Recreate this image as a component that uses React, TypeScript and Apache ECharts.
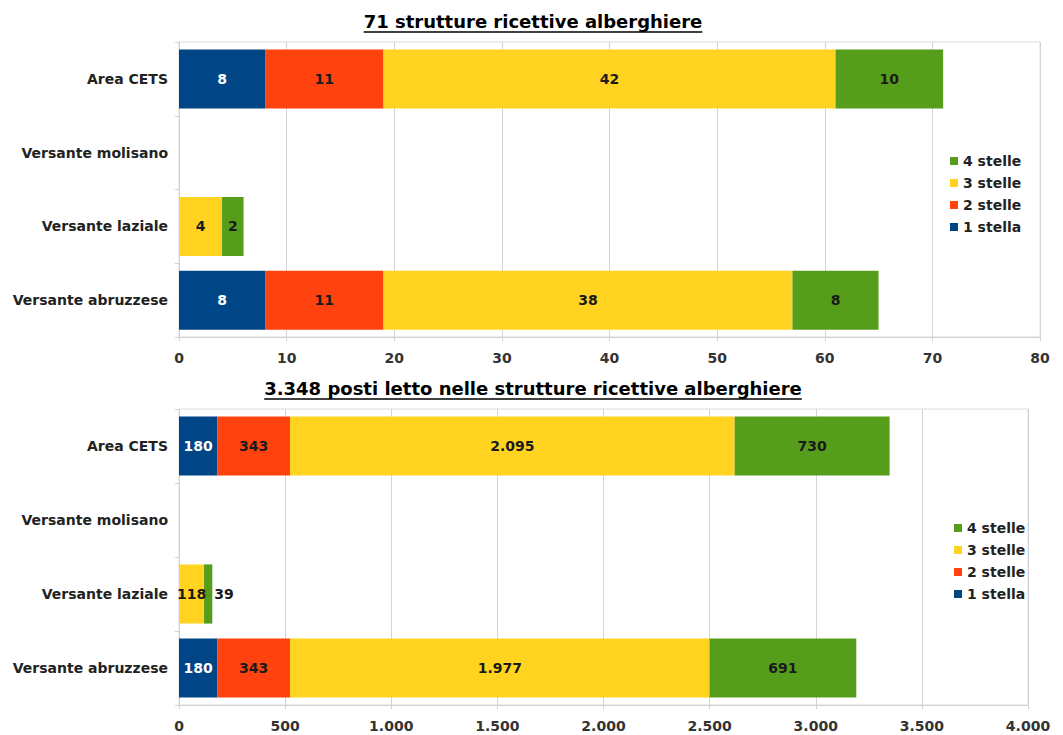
import React, { useEffect, useRef } from "react";
import * as echarts from "echarts";

// Categories, listed top to bottom
const areas = ["Area CETS", "Versante molisano", "Versante laziale", "Versante abruzzese"];
const classes = ["1 stella", "2 stelle", "3 stelle", "4 stelle"];
const legendOrder = ["4 stelle", "3 stelle", "2 stelle", "1 stella"];
const classColors = ["#004586", "#ff420e", "#ffd320", "#579d1c"];

// Number of hotels per class
const hotels1 = [8, 0, 0, 8];
const hotels2 = [11, 0, 0, 11];
const hotels3 = [42, 0, 4, 38];
const hotels4 = [10, 0, 2, 8];

// Number of beds per class
const beds1 = [180, 0, 0, 180];
const beds2 = [343, 0, 0, 343];
const beds3 = [2095, 0, 118, 1977];
const beds4 = [730, 0, 39, 691];

const title1 = "71 strutture ricettive alberghiere";
const title2 = "3.348 posti letto nelle strutture ricettive alberghiere";

const FONT = '"DejaVu Sans", Verdana, sans-serif';

// Italian thousands separator
const fmt = (v: number) => String(Math.round(v)).replace(/\B(?=(\d{3})+(?!\d))/g, ".");

function measure(text: string, font: string): number {
  const ctx = document.createElement("canvas").getContext("2d");
  if (!ctx) return text.length * 10;
  ctx.font = font;
  return ctx.measureText(text).width;
}

export default function App() {
  const ref = useRef<HTMLDivElement>(null);

  useEffect(() => {
    if (!ref.current) return;
    const chart = echarts.init(ref.current, null, { renderer: "svg" });

    const hotelSets = [hotels1, hotels2, hotels3, hotels4];
    const bedSets = [beds1, beds2, beds3, beds4];

    const makeSeries = (sets: number[][], axisIndex: number, outside: number[][]) =>
      sets.map((vals, ci) => ({
        type: "bar",
        name: classes[ci],
        stack: "s" + axisIndex,
        xAxisIndex: axisIndex,
        yAxisIndex: axisIndex,
        barCategoryGap: "20%",
        itemStyle: { color: classColors[ci] },
        label: {
          show: true,
          position: "inside",
          fontFamily: FONT,
          fontWeight: "bold",
          fontSize: 14,
          color: ci === 0 ? "#ffffff" : "#1a1a1a",
          formatter: (p: any) => fmt(p.value),
        },
        data: vals.map((v, ri) => {
          if (!v) return null;
          const isOut = outside.some(([c, r]) => c === ci && r === ri);
          return isOut
            ? { value: v, label: { position: "right", distance: 2, color: "#1a1a1a" } }
            : v;
        }),
      }));

    const catAxis = (gi: number) => ({
      type: "category",
      gridIndex: gi,
      data: areas,
      inverse: true,
      axisLine: { show: true, lineStyle: { color: "#d0d0d8" } },
      axisTick: { show: true, length: 4, lineStyle: { color: "#d0d0d8" } },
      axisLabel: {
        fontFamily: FONT,
        fontWeight: "bold",
        fontSize: 14,
        color: "#222",
        margin: 11,
      },
    });

    const valAxis = (gi: number, max: number, interval: number) => ({
      type: "value",
      gridIndex: gi,
      min: 0,
      max,
      interval,
      axisLine: { show: true, lineStyle: { color: "#d0d0d8" } },
      axisTick: { show: true, length: 4, lineStyle: { color: "#d0d0d8" } },
      splitLine: { show: true, lineStyle: { color: "#d2d2da", width: 1 } },
      axisLabel: {
        fontFamily: FONT,
        fontWeight: "bold",
        fontSize: 14,
        color: "#333",
        margin: 14,
        formatter: (v: number) => fmt(v),
      },
    });

    const titleFont = 'bold 18px "DejaVu Sans"';
    const tw1 = measure(title1, titleFont);
    const tw2 = measure(title2, titleFont);
    const titleX = 533;

    const legendCommon = {
      orient: "vertical",
      data: legendOrder,
      itemWidth: 8,
      itemHeight: 8,
      itemGap: 8,
      icon: "rect",
      textStyle: { fontFamily: FONT, fontWeight: "bold", fontSize: 14, color: "#222", padding: [0, 0, 0, 0] },
      selectedMode: false,
    };

    chart.setOption({
      animation: false,
      backgroundColor: "#ffffff",
      grid: [
        { left: 179, right: 23, top: 42, height: 295, show: true, borderColor: "#dcdce2", borderWidth: 1, backgroundColor: "transparent" },
        { left: 179, right: 35, top: 409, height: 296, show: true, borderColor: "#dcdce2", borderWidth: 1, backgroundColor: "transparent" },
      ],
      legend: [
        { ...legendCommon, left: 945, top: 149 },
        { ...legendCommon, left: 949, top: 516 },
      ],
      xAxis: [valAxis(0, 80, 10), valAxis(1, 4000, 500)],
      yAxis: [catAxis(0), catAxis(1)],
      series: [
        ...makeSeries(hotelSets, 0, []),
        ...makeSeries(bedSets, 1, [[3, 2]]),
      ],
      graphic: [
        {
          type: "text",
          x: titleX,
          y: 21,
          style: { text: title1, font: titleFont, fill: "#000", align: "center", verticalAlign: "middle" },
        },
        {
          type: "line",
          shape: { x1: titleX - tw1 / 2, y1: 32, x2: titleX + tw1 / 2, y2: 32 },
          style: { stroke: "#000", lineWidth: 1.5 },
        },
        {
          type: "text",
          x: titleX,
          y: 388,
          style: { text: title2, font: titleFont, fill: "#000", align: "center", verticalAlign: "middle" },
        },
        {
          type: "line",
          shape: { x1: titleX - tw2 / 2, y1: 399, x2: titleX + tw2 / 2, y2: 399 },
          style: { stroke: "#000", lineWidth: 1.5 },
        },
      ],
    });

    return () => chart.dispose();
  }, []);

  return (
    <div
      ref={ref}
      style={{ position: "fixed", left: 0, top: 0, width: 1063, height: 735, background: "#fff" }}
    />
  );
}
